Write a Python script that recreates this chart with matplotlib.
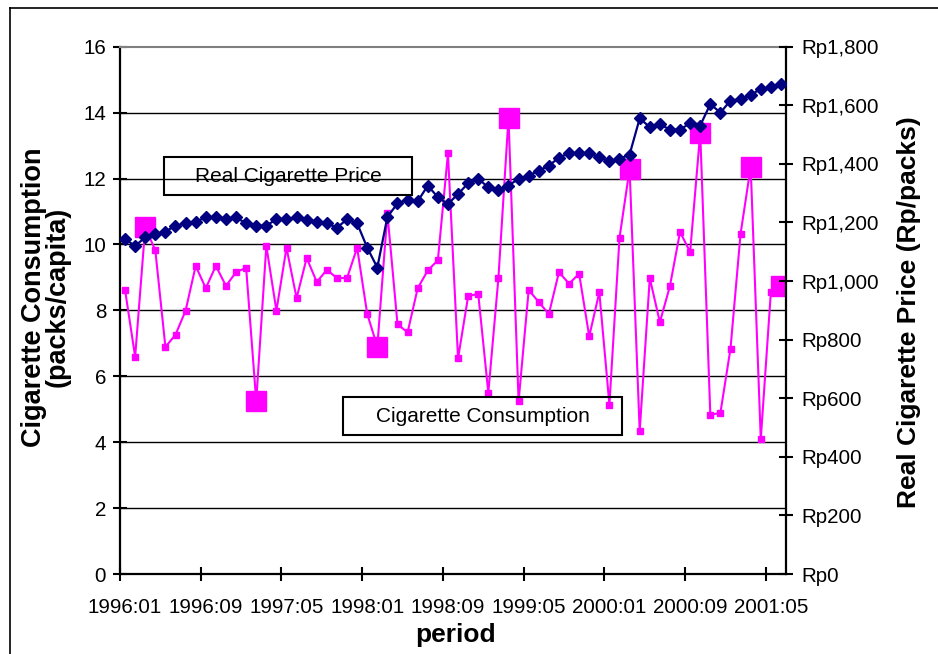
import matplotlib.pyplot as plt
from matplotlib.patches import Rectangle
from matplotlib.lines import Line2D
from matplotlib.ticker import FuncFormatter

plt.rcParams['font.family'] = ['Liberation Sans', 'DejaVu Sans']

W, H = 938, 654

# monthly periods 1996:01 .. 2001:06
periods = ['%d:%02d' % (1996 + m // 12, m % 12 + 1) for m in range(66)]

# cigarette consumption, packs per capita
consumption = [
    8.62, 6.59, 10.52, 9.82, 6.89, 7.26, 7.99, 9.35, 8.67, 9.35,
    8.74, 9.16, 9.29, 5.24, 9.96, 7.99, 9.90, 8.37, 9.59, 8.86,
    9.23, 8.98, 8.98, 9.90, 7.89, 6.90, 10.94, 7.58, 7.33, 8.67,
    9.21, 9.52, 12.76, 6.54, 8.43, 8.50, 5.50, 8.98, 13.85, 5.24,
    8.62, 8.25, 7.89, 9.16, 8.81, 9.11, 7.21, 8.55, 5.14, 10.20,
    12.29, 4.33, 8.98, 7.64, 8.74, 10.38, 9.77, 13.39, 4.83, 4.89,
    6.84, 10.33, 12.35, 4.09, 8.55, 8.73,
]

# real cigarette price, Rp per pack
price = [
    1143, 1120, 1149, 1160, 1169, 1189, 1197, 1203, 1217, 1217,
    1211, 1217, 1197, 1189, 1189, 1211, 1211, 1217, 1208, 1203,
    1197, 1182, 1211, 1197, 1114, 1046, 1219, 1265, 1278, 1272,
    1326, 1286, 1263, 1297, 1334, 1349, 1320, 1311, 1326, 1349,
    1360, 1377, 1394, 1421, 1437, 1437, 1437, 1423, 1409, 1417,
    1432, 1555, 1526, 1535, 1517, 1517, 1539, 1531, 1604, 1575,
    1616, 1621, 1635, 1656, 1661, 1672,
]

# months drawn with the large marker
highlight = [2, 13, 25, 38, 50, 57, 62, 65]

left_ticks = list(range(0, 17, 2))
right_ticks = list(range(0, 1801, 200))


def fx(x):
    return x / W


def fy(y):
    return 1 - y / H


fig = plt.figure(figsize=(W / 100, H / 100), dpi=100)
ax = fig.add_axes([fx(120), fy(574), (786 - 120) / W, (574 - 46.7) / H])
ax2 = ax.twinx()

x = [i + 0.5 for i in range(len(periods))]

pink = '#FF00FF'
navy = '#000080'

ax.plot(x, consumption, color=pink, lw=1.5, marker='s', ms=5, zorder=3)
ax.plot([x[i] for i in highlight], [consumption[i] for i in highlight],
        ls='none', marker='s', ms=14, color=pink, zorder=4)
ax2.plot(x, price, color=navy, lw=1.6, marker='D', ms=6.3, zorder=3)

# axes limits and grid
ax.set_xlim(0, len(periods))
ax.set_ylim(0, 16)
ax2.set_ylim(0, 1800)
ax.set_yticks(left_ticks)
ax2.set_yticks(right_ticks)
ax.grid(axis='y', color='black', lw=1)
ax.set_axisbelow(True)
ax.get_ygridlines()[-1].set_visible(False)

for s in ['left', 'bottom']:
    ax.spines[s].set_linewidth(1.6)
    ax.spines[s].set_color('black')
ax.spines['right'].set_visible(False)
ax.spines['top'].set_color('#808080')
ax.spines['top'].set_linewidth(1.5)
for s in ['left', 'top', 'bottom']:
    ax2.spines[s].set_visible(False)
ax2.spines['right'].set_linewidth(1.6)

ax2.yaxis.set_major_formatter(FuncFormatter(lambda v, p: 'Rp{:,}'.format(int(v))))

# category ticks: marks between months, labels centred on months
ax.set_xticks(list(range(0, 65, 8)), minor=True)
ax.set_xticks([i + 0.5 for i in range(0, 65, 8)])
ax.set_xticklabels([periods[i] for i in range(0, 65, 8)])
ax.tick_params(axis='x', which='major', length=0, pad=17, labelsize=14.8)
ax.tick_params(axis='x', which='minor', direction='inout', length=10, width=1.5)
ax.tick_params(axis='y', direction='inout', length=10, width=1.5,
               labelsize=14.8, pad=5)
ax2.tick_params(axis='y', direction='inout', length=10, width=1.5,
                labelsize=14.8, pad=6)

ax.set_xlabel('period', fontsize=19, fontweight='bold')
ax.xaxis.set_label_coords(0.5045, -0.093)
ax.set_ylabel('Cigarette Consumption\n(packs/capita)', fontsize=19.5,
              fontweight='bold', linespacing=0.9)
ax.yaxis.set_label_coords(-0.074, 0.525)
ax2.set_ylabel('Real Cigarette Price (Rp/packs)', fontsize=19,
               fontweight='bold', rotation=90)
ax2.yaxis.set_label_coords(1.166, 0.497)

# series name boxes
boxes = [
    ('Real Cigarette Price', 164, 157, 412, 195),
    ('Cigarette Consumption', 343, 397, 622, 435),
]
for label, x0, y0, x1, y1 in boxes:
    fig.add_artist(Rectangle((fx(x0), fy(y1)), (x1 - x0) / W, (y1 - y0) / H,
                             transform=fig.transFigure, fill=False,
                             ec='black', lw=1.5))
    fig.text(fx((x0 + x1) / 2), fy((y0 + y1) / 2), label, fontsize=15,
             ha='center', va='center')

# chart frame
fig.add_artist(Line2D([fx(10), fx(10)], [0, fy(8)], color='black', lw=1.2,
                      transform=fig.transFigure))
fig.add_artist(Line2D([fx(10), 1], [fy(8), fy(8)], color='black', lw=1.2,
                      transform=fig.transFigure))

fig.savefig('out.png', dpi=100)
